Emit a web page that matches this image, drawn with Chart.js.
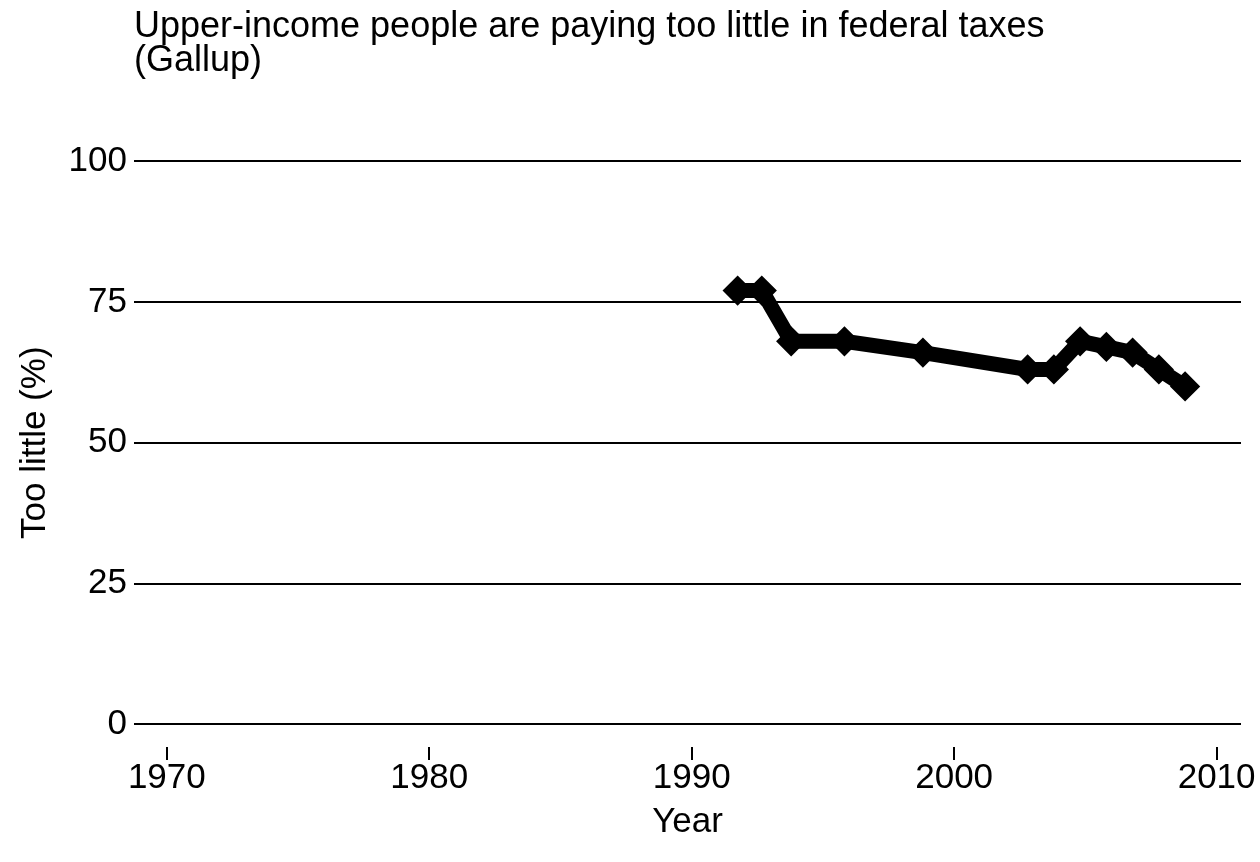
<!DOCTYPE html>
<html>
<head>
<meta charset="utf-8">
<script src="https://cdn.jsdelivr.net/npm/chart.js@4.4.1/dist/chart.umd.min.js"></script>
<style>
	html, body { margin: 0; padding: 0; background: #fff; }
	#wrap { width: 1260px; height: 862px; position: relative; }
</style>
</head>
<body>
<div id="wrap"><canvas id="taxChart"></canvas></div>
<script>
// Survey dates (fractional years, as placed on the x axis) and share saying "too little"
const surveyDates = [1991.75, 1992.67, 1993.79, 1995.82, 1998.81, 2002.8, 2003.8, 2004.8, 2005.8, 2006.8, 2007.8, 2008.8];
const tooLittle = [77, 77, 68, 68, 66, 63, 63, 68, 67, 66, 63, 60];

const xTicks = [1970, 1980, 1990, 2000, 2010];
const yTicks = [0, 25, 50, 75, 100];

const titleLines = ['Upper-income people are paying too little in federal taxes', '(Gallup)'];
const yTitle = 'Too little (%)';

const FONT = '"Liberation Sans", Arial, Helvetica, sans-serif';

// Two-line title flush with the plot's left edge, and the y title centred on the 0-100 span
const textPlugin = {
	id: 'extraText',
	afterDraw(chart) {
		const ctx = chart.ctx;
		const y = chart.scales.y;
		ctx.save();
		ctx.fillStyle = '#000';
		ctx.font = `36px ${FONT}`;
		ctx.textAlign = 'left';
		ctx.textBaseline = 'alphabetic';
		titleLines.forEach((line, i) => {
			ctx.fillText(line, chart.chartArea.left, 37 + i * 34);
		});

		const mid = (y.getPixelForValue(yTicks[0]) + y.getPixelForValue(yTicks[yTicks.length - 1])) / 2;
		ctx.font = `35px ${FONT}`;
		ctx.translate(35, mid);
		ctx.rotate(-Math.PI / 2);
		ctx.textAlign = 'center';
		ctx.textBaseline = 'middle';
		ctx.fillText(yTitle, 0, 0);
		ctx.restore();
	}
};

const points = surveyDates.map((x, i) => ({ x: x, y: tooLittle[i] }));

new Chart(document.getElementById('taxChart'), {
	type: 'line',
	data: {
		datasets: [{
			label: 'Too little',
			data: points,
			borderColor: '#000',
			backgroundColor: '#000',
			borderWidth: 15,
			borderJoinStyle: 'miter',
			tension: 0,
			pointStyle: 'rectRot',
			pointRadius: 13,
			pointBorderWidth: 3,
			pointBackgroundColor: '#000',
			pointBorderColor: '#000',
		}]
	},
	options: {
		responsive: true,
		maintainAspectRatio: false,
		animation: false,
		layout: {
			padding: { top: 161, right: 19, left: 0, bottom: 0 }
		},
		plugins: {
			legend: { display: false },
			tooltip: { enabled: false },
			title: { display: false }
		},
		scales: {
			x: {
				type: 'linear',
				min: 1968.75,
				max: 2010.93,
				afterBuildTicks: (scale) => {
					scale.ticks = xTicks.map(v => ({ value: v }));
				},
				afterFit: (scale) => { scale.height = 862 - 747; },
				border: { display: false },
				grid: {
					drawOnChartArea: false,
					drawTicks: true,
					tickLength: 13,
					color: '#000',
					lineWidth: 2
				},
				ticks: {
					color: '#000',
					font: { family: FONT, size: 35 },
					padding: -3,
					maxRotation: 0,
					callback: (v) => String(v)
				},
				title: {
					display: true,
					text: 'Year',
					color: '#000',
					font: { family: FONT, size: 35 },
					padding: { top: 0, bottom: 19 }
				}
			},
			y: {
				min: -4,
				max: 100,
				afterBuildTicks: (scale) => {
					scale.ticks = yTicks.map(v => ({ value: v }));
				},
				afterFit: (scale) => { scale.width = 134; },
				border: { display: false },
				grid: {
					drawTicks: false,
					color: '#000',
					lineWidth: 2
				},
				ticks: {
					color: '#000',
					font: { family: FONT, size: 35 },
					padding: 7,
					callback: (v) => String(v)
				}
			}
		}
	},
	plugins: [textPlugin]
});
</script>
</body>
</html>
